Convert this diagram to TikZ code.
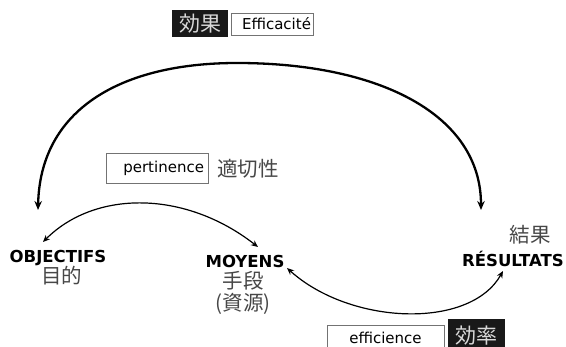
\documentclass[tikz,border=0pt]{standalone}
\usepackage{fontspec}
\setmainfont{DejaVu Sans}
\newfontfamily\cjk{Noto Sans CJK JP}
\usetikzlibrary{arrows.meta}
\begin{document}
\begin{tikzpicture}[x=1pt,y=-1pt,
  lab/.style={font=\bfseries\fontsize{16.5}{18}\selectfont, inner sep=0pt},
  cj/.style={font=\cjk\fontsize{20.5}{22}\selectfont, text=black!72, inner sep=0pt},
  wbox/.style={draw=black!55, line width=0.8pt, inner ysep=0pt, font=\fontsize{15}{16}\selectfont},
  bbox/.style={fill=black!90, text=white!85!black, inner sep=0pt, font=\cjk\fontsize{21}{23}\selectfont},
  thinarc/.style={line width=1.2pt, {Stealth[length=7pt,width=6pt]}-{Stealth[length=7pt,width=6pt]}},
  bigarc/.style={line width=2.3pt, {Stealth[length=9pt,width=7.5pt]}-{Stealth[length=9pt,width=7.5pt]}}]
\useasboundingbox (0,0) rectangle (566,347);

% top labels
\node[bbox, minimum width=56pt, minimum height=27pt] (kouka) at (200,23.5) {効果};
\node[wbox, inner xsep=2pt, text width=78pt, align=right, minimum height=22pt] (effic) at (272,24) {Efficacité};

% pertinence
\node[wbox, inner xsep=4pt, text width=94pt, align=right, minimum height=30pt] (pert) at (157,168) {pertinence};
\node[cj] (tekisetsu) at (248,169) {適切性};

% bottom labels (boxes run past the lower edge)
\node[wbox, inner xsep=0pt, minimum width=117pt, minimum height=30pt] (effi) at (385.5,340) {\raisebox{3.5pt}{efficience}};
\node[bbox, minimum width=57pt, minimum height=34pt] (kouritsu) at (476.5,336) {\raisebox{3pt}{効率}};

% main terms
\node[lab] (obj) at (58,258) {OBJECTIFS};
\node[cj] (mokuteki) at (62,276) {目的};
\node[lab] (moy) at (245,261) {MOYENS};
\node[cj] (shudan) at (243,281) {手段};
\node[cj] (shigen) at (243,304) {(資源)};
\node[cj] (kekka) at (530,235) {結果};
\node[lab] (res) at (513,259) {RÉSULTATS};

% arrow end points
\coordinate (bigL) at (38,210);
\coordinate (bigR) at (481,210);
\coordinate (bigTop) at (237,63);
\coordinate (objTip) at (43,242);
\coordinate (moyTip) at (258,247);
\coordinate (moyTip2) at (287,268);
\coordinate (resTip) at (503,271);

% connectors
\draw[bigarc] (bigL) .. controls (40,110) and (120,63) .. (bigTop)
  .. controls (380,63) and (481,115) .. (bigR);
\draw[thinarc] (objTip) .. controls (95,190) and (185,190) .. (moyTip);
\draw[thinarc] (moyTip2) .. controls (350,325) and (470,330) .. (resTip);
\end{tikzpicture}
\end{document}
